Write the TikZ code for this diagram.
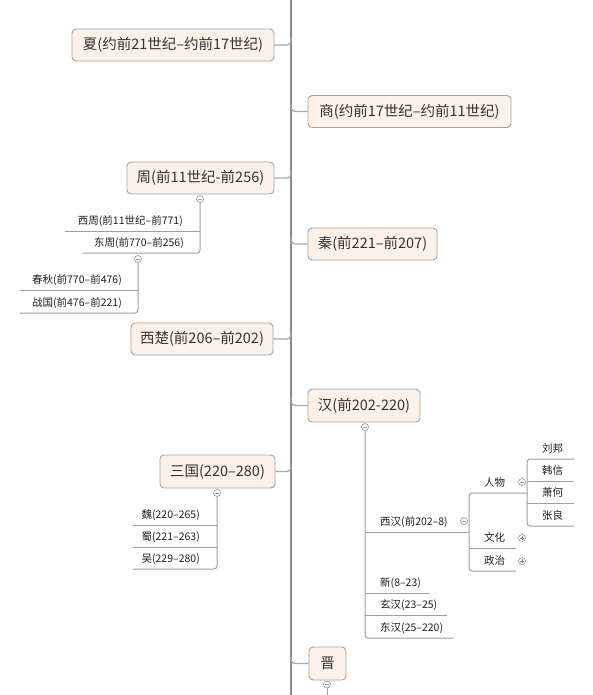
\documentclass[tikz,border=0pt]{standalone}
\usepackage{fontspec}
\setmainfont{Noto Sans CJK SC}
\definecolor{boxfill}{HTML}{FDF2E9}
\definecolor{boxline}{HTML}{A9A09A}
\definecolor{trunkc}{HTML}{8A8A8A}
\definecolor{connc}{HTML}{A8A8A8}
\definecolor{subc}{HTML}{A0A0A0}
\definecolor{txt}{HTML}{333333}
\definecolor{leaftxt}{HTML}{1E1E1E}
\newcommand{\boxfont}{\fontsize{14.5}{17}\selectfont}
\newcommand{\leaffont}{\fontsize{10.5}{12}\selectfont}
\begin{document}
\begin{tikzpicture}[x=1pt,y=-1pt,
  box/.style={draw=boxline, fill=boxfill, line width=0.9pt, rounded corners=4pt,
    minimum height=32pt, inner sep=0pt, font=\boxfont, text=txt},
  trunk/.style={draw=trunkc, line width=2pt},
  conn/.style={draw=connc, line width=1.3pt, rounded corners=4pt},
  sub/.style={draw=subc, line width=1pt, rounded corners=3pt},
  leafL/.style={inner sep=0pt, minimum height=20pt, text width=#1, align=right,
    anchor=south east, font=\leaffont, text=leaftxt},
  leafR/.style={inner sep=0pt, minimum height=20pt, text width=#1, align=left,
    anchor=south west, font=\leaffont, text=leaftxt},
  circ/.style={circle, draw=subc, fill=white, line width=0.7pt, minimum size=7pt, inner sep=0pt},
  minusc/.style={circ, path picture={\draw[subc, line width=0.6pt]
    ([xshift=-2pt]path picture bounding box.center) -- ([xshift=2pt]path picture bounding box.center);}},
  plusc/.style={circ, path picture={\draw[gray, line width=0.6pt]
    ([xshift=-2pt]path picture bounding box.center) -- ([xshift=2pt]path picture bounding box.center)
    ([yshift=-2pt]path picture bounding box.center) -- ([yshift=2pt]path picture bounding box.center);}},
]
\useasboundingbox (0,0) rectangle (592,695);

% trunk
\coordinate (ttop) at (291,0);
\coordinate (tbot) at (291,695);
\draw[trunk] (ttop) -- (tbot);

% main boxes
\node[box, minimum width=202pt] (xia) at (173,45) {夏(约前21世纪–约前17世纪)};
\node[box, minimum width=203pt] (shang) at (409.5,111.5) {商(约前17世纪–约前11世纪)};
\node[box, minimum width=147pt] (zhou) at (200.5,178) {周(前11世纪-前256)};
\node[box, minimum width=129pt] (qin) at (372.5,244) {秦(前221–前207)};
\node[box, minimum width=142pt] (xichu) at (202,339) {西楚(前206–前202)};
\node[box, minimum width=112pt, minimum height=33pt] (han) at (364,405.5) {汉(前202-220)};
\node[box, minimum width=115pt, minimum height=33pt] (sanguo) at (217.5,471.5) {三国(220–280)};
\node[box, minimum width=37pt, minimum height=33pt] (jin) at (327.5,663.5) {晋};

% connectors to trunk
\draw[conn] (xia.east) -| ([yshift=7pt]xia.east -| ttop);
\draw[conn] (zhou.east) -| ([yshift=7pt]zhou.east -| ttop);
\draw[conn] (xichu.east) -| ([yshift=7pt]xichu.east -| ttop);
\draw[conn] (sanguo.east) -| ([yshift=7pt]sanguo.east -| ttop);
\draw[conn] ([yshift=7pt]shang.west -| ttop) |- (shang.west);
\draw[conn] ([yshift=7pt]qin.west -| ttop) |- (qin.west);
\draw[conn] ([yshift=7pt]han.west -| ttop) |- (han.west);
\draw[conn] ([yshift=7pt]jin.west -| ttop) |- (jin.west);

% ---- Zhou children
\node[minusc] (zc) at (200,199) {};
\node[leafL=135pt] (xizhou) at (200,231) {西周(前11世纪–前771)\hspace*{17pt}};
\node[leafL=117pt] (dongzhou) at (200,253) {东周(前770–前256)\hspace*{16pt}};
\draw[sub] (zc.south) |- (dongzhou.south west);
\draw[sub] (xizhou.south west) -- (xizhou.south east);
\node[minusc] (dc) at (138,259) {};
\node[leafL=118pt] (chunqiu) at (138,290) {春秋(前770–前476)\hspace*{16pt}};
\node[leafL=118pt] (zhanguo) at (138,313) {战国(前476–前221)\hspace*{16pt}};
\draw[sub] (dc.south) |- (zhanguo.south west);
\draw[sub] (chunqiu.south west) -- (chunqiu.south east);

% ---- Sanguo children
\node[minusc] (sgc) at (217,493) {};
\node[leafL=84pt] (wei) at (217,525) {魏(220–265)\hspace*{17pt}};
\node[leafL=84pt] (shu) at (217,547) {蜀(221–263)\hspace*{17pt}};
\node[leafL=84pt] (wu) at (217,569) {吴(229–280)\hspace*{17pt}};
\draw[sub] (sgc.south) |- (wu.south west);
\draw[sub] (wei.south west) -- (wei.south east);
\draw[sub] (shu.south west) -- (shu.south east);

% ---- Han children
\node[minusc] (hc) at (365,427) {};
\node[leafR=104pt] (xihan) at (365,532) {\hspace*{15pt}西汉(前202–8)};
\node[leafR=65pt] (xin) at (365,593) {\hspace*{15pt}新(8–23)};
\node[leafR=82pt] (xuanhan) at (365,615) {\hspace*{15pt}玄汉(23–25)};
\node[leafR=88pt] (donghan) at (365,638) {\hspace*{15pt}东汉(25–220)};
\draw[sub] (hc.south) |- (donghan.south east);
\draw[sub] (xihan.south west) -- (xihan.south east);
\draw[sub] (xin.south west) -- (xin.south east);
\draw[sub] (xuanhan.south west) -- (xuanhan.south east);
\node[minusc] (xhc) at (464,521) {};

% Xihan children
\node[leafR=58pt] (renwu) at (469,493) {\hspace*{15pt}人物};
\node[leafR=47pt] (wenhua) at (469,548) {\hspace*{15pt}文化};
\node[leafR=47pt] (zhengzhi) at (469,571) {\hspace*{15pt}政治};
\draw[sub] (renwu.south east) -- (renwu.south west) -- (zhengzhi.south west) -- (zhengzhi.south east);
\draw[sub] (wenhua.south west) -- (wenhua.south east);
\node[minusc] (rwc) at (522,482) {};
\node[plusc] (whc) at (522,538) {};
\node[plusc] (zzc) at (522,561) {};

% Renwu children
\node[leafR=47pt] (liubang) at (527,459) {\hspace*{15pt}刘邦};
\node[leafR=47pt] (hanxin) at (527,481) {\hspace*{15pt}韩信};
\node[leafR=47pt] (xiaohe) at (527,503) {\hspace*{15pt}萧何};
\node[leafR=47pt] (zhangliang) at (527,526) {\hspace*{15pt}张良};
\draw[sub] (liubang.south east) -- (liubang.south west) -- (zhangliang.south west) -- (zhangliang.south east);
\draw[sub] (hanxin.south west) -- (hanxin.south east);
\draw[sub] (xiaohe.south west) -- (xiaohe.south east);

% ---- Jin
\node[minusc] (jc) at (327,684.5) {};
\coordinate (jend) at (327,695);
\draw[sub] (jc.south) -- (jend);
\end{tikzpicture}
\end{document}
